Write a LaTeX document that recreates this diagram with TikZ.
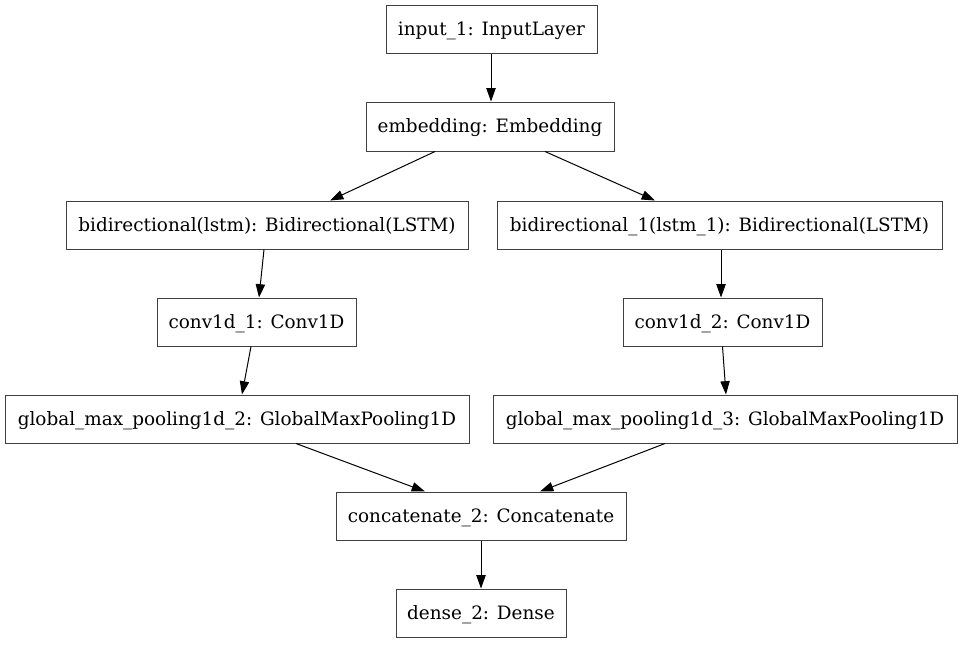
\documentclass[tikz,border=0pt]{standalone}
\usepackage{fontspec}
\setmainfont{DejaVu Serif}
\usetikzlibrary{arrows.meta}
\def\px{0.75pt}
\begin{document}
\begin{tikzpicture}[x=0.75pt,y=-0.75pt,
 box/.style={draw=black!75, line width=0.75pt, inner sep=0pt, font=\fontsize{13.8}{16}\selectfont, text height=11pt, text depth=1.5pt, minimum height=48*\px},
 edge/.style={line width=0.75pt, -{Triangle[length=10pt,width=7pt]}}]
\useasboundingbox (0,0) rectangle (963,644);
\node[box, minimum width=211*\px] (in) at (491.5,29) {input\_1: InputLayer};
\node[box, minimum width=248*\px, minimum height=49*\px] (emb) at (490,126.5) {embedding: Embedding};
\node[box, minimum width=402*\px] (bl) at (267,225) {bidirectional(lstm): Bidirectional(LSTM)};
\node[box, minimum width=445*\px] (br) at (719.5,225) {bidirectional\_1(lstm\_1): Bidirectional(LSTM)};
\node[box, minimum width=199*\px] (c1) at (256.5,322) {conv1d\_1: Conv1D};
\node[box, minimum width=199*\px] (c2) at (722.5,322) {conv1d\_2: Conv1D};
\node[box, minimum width=464*\px] (g2) at (237,419) {global\_max\_pooling1d\_2: GlobalMaxPooling1D};
\node[box, minimum width=464*\px] (g3) at (725,419) {global\_max\_pooling1d\_3: GlobalMaxPooling1D};
\node[box, minimum width=290*\px] (cat) at (481,516) {concatenate\_2: Concatenate};
\node[box, minimum width=170*\px] (dense) at (481,613) {dense\_2: Dense};
\draw[edge] ([xshift=-0.5*\px]in.south) -- ([xshift=1*\px]emb.north);
\draw[edge] ([xshift=-55*\px]emb.south) -- ([xshift=63*\px]bl.north);
\draw[edge] ([xshift=55*\px]emb.south) -- ([xshift=-64.5*\px]br.north);
\draw[edge] ([xshift=-3*\px]bl.south) -- ([xshift=2.5*\px]c1.north);
\draw[edge] ([xshift=-5.5*\px]c1.south) -- ([xshift=5*\px]g2.north);
\draw[edge] ([xshift=1.5*\px]br.south) -- ([xshift=-1.5*\px]c2.north);
\draw[edge] (c2.south) -- ([xshift=1*\px]g3.north);
\draw[edge] ([xshift=59*\px]g2.south) -- ([xshift=-56*\px]cat.north);
\draw[edge] ([xshift=-60*\px]g3.south) -- ([xshift=59*\px]cat.north);
\draw[edge] (cat.south) -- (dense.north);
\end{tikzpicture}
\end{document}
